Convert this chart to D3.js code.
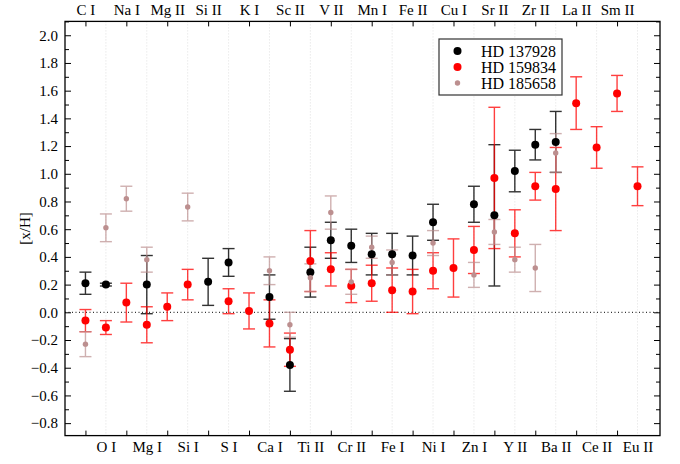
<!DOCTYPE html>
<html>
<head>
<meta charset="utf-8">
<script src="https://cdn.jsdelivr.net/npm/d3@7"></script>
<style>
  body { margin: 0; background: #fff; }
  svg text { font-family: "Liberation Serif", "DejaVu Serif", serif; fill: #000; }
</style>
</head>
<body>
<div id="chart"></div>
<script>
var svgWidth = 680;
var svgHeight = 464;

// element labels, in plotting order (even -> labelled on top, odd -> bottom)
var elements = ["C I", "O I", "Na I", "Mg I", "Mg II", "Si I", "Si II", "S I", "K I", "Ca I",
  "Sc II", "Ti II", "V II", "Cr II", "Mn I", "Fe I", "Fe II", "Ni I", "Cu I", "Zn I",
  "Sr II", "Y II", "Zr II", "Ba II", "La II", "Ce II", "Sm II", "Eu II"];

// HD 137928
var hd137928 = [0.21, 0.20, null, 0.20, null, null, 0.22, 0.36, null, 0.11,
  -0.38, 0.29, 0.52, 0.48, 0.42, 0.42, 0.41, 0.65, null, 0.78,
  0.70, 1.02, 1.21, 1.23, null, null, null, null];
var hd137928Err = [0.08, 0.01, null, 0.21, null, null, 0.17, 0.10, null, 0.16,
  0.19, 0.18, 0.13, 0.12, 0.15, 0.15, 0.14, 0.13, null, 0.13,
  0.51, 0.15, 0.11, 0.22, null, null, null, null];

// HD 159834
var hd159834 = [-0.06, -0.11, 0.07, -0.09, 0.04, 0.20, null, 0.08, 0.01, -0.08,
  -0.27, 0.37, 0.31, 0.19, 0.21, 0.16, 0.15, 0.30, 0.32, 0.45,
  0.97, 0.57, 0.91, 0.89, 1.51, 1.19, 1.58, 0.91];
var hd159834Err = [0.08, 0.05, 0.14, 0.13, 0.10, 0.11, null, 0.09, 0.13, 0.17,
  0.12, 0.22, 0.12, 0.12, 0.13, 0.16, 0.16, 0.13, 0.21, 0.17,
  0.51, 0.17, 0.10, 0.30, 0.19, 0.15, 0.13, 0.14];

// HD 185658
var hd185658 = [-0.23, 0.61, 0.82, 0.38, null, 0.76, null, null, null, 0.30,
  -0.09, 0.25, 0.72, 0.22, 0.47, 0.36, null, 0.50, null, 0.27,
  0.58, 0.38, 0.32, 1.15, null, null, null, null];
var hd185658Err = [0.09, 0.10, 0.09, 0.09, null, 0.10, null, null, null, 0.10,
  0.09, 0.10, 0.12, 0.09, 0.08, 0.09, null, 0.09, null, 0.09,
  0.09, 0.09, 0.17, 0.14, null, null, null, null];

var series = [
  {name: "HD 137928", values: hd137928, errs: hd137928Err, color: "#000000", r: 4, barOpacity: 0.8},
  {name: "HD 159834", values: hd159834, errs: hd159834Err, color: "#ff0000", r: 4, barOpacity: 0.75},
  {name: "HD 185658", values: hd185658, errs: hd185658Err, color: "#bc8f8f", r: 2.7, barOpacity: 0.7}
];

var plot = {left: 65, right: 660, top: 21.4, bottom: 435.6};
var serif = "'Liberation Serif', 'DejaVu Serif', serif";

var svg = d3.select("#chart")
  .append("svg")
  .attr("width", svgWidth)
  .attr("height", svgHeight);

var x = d3.scaleLinear()
  .domain([-1, 28.1])
  .range([plot.left, plot.right]);

var y = d3.scaleLinear()
  .domain([-0.89, 2.1])
  .range([plot.bottom, plot.top]);

var idx = d3.range(elements.length);
var evenIdx = idx.filter(i => i % 2 === 0);
var oddIdx = idx.filter(i => i % 2 === 1);

// light dotted vertical grid at the bottom-labelled elements
svg.append("g")
  .selectAll("line")
  .data(oddIdx)
  .enter()
  .append("line")
  .attr("x1", d => x(d))
  .attr("x2", d => x(d))
  .attr("y1", plot.top)
  .attr("y2", plot.bottom)
  .attr("stroke", "#d8d8d8")
  .attr("stroke-width", 0.8)
  .attr("stroke-dasharray", "1,2");

// zero line
svg.append("line")
  .attr("x1", plot.left)
  .attr("x2", plot.right)
  .attr("y1", y(0))
  .attr("y2", y(0))
  .attr("stroke", "#000")
  .attr("stroke-width", 1)
  .attr("stroke-dasharray", "1,2.5");

// axes
var majorTicks = d3.range(-8, 21, 2).map(d => d / 10);
var minorTicks = d3.range(-9, 22, 2).map(d => d / 10).filter(d => d >= -0.89 && d <= 2.1);

svg.append("g")
  .attr("transform", `translate(${plot.left},0)`)
  .call(d3.axisLeft(y).tickValues(majorTicks).tickSize(-6).tickPadding(7).tickFormat(d3.format(".1f")));
svg.append("g")
  .attr("transform", `translate(${plot.left},0)`)
  .call(d3.axisLeft(y).tickValues(minorTicks).tickSize(-4).tickFormat(""));
svg.append("g")
  .attr("transform", `translate(${plot.right},0)`)
  .call(d3.axisRight(y).tickValues(majorTicks).tickSize(-6).tickFormat(""));
svg.append("g")
  .attr("transform", `translate(${plot.right},0)`)
  .call(d3.axisRight(y).tickValues(minorTicks).tickSize(-4).tickFormat(""));

svg.append("g")
  .attr("transform", `translate(0,${plot.top})`)
  .call(d3.axisTop(x).tickValues(evenIdx).tickSize(-5).tickPadding(6).tickFormat(i => elements[i]));
svg.append("g")
  .attr("transform", `translate(0,${plot.bottom})`)
  .call(d3.axisBottom(x).tickValues(evenIdx).tickSize(-5).tickFormat(""));
var bottomLabels = svg.append("g")
  .attr("transform", `translate(0,${plot.bottom})`)
  .call(d3.axisBottom(x).tickValues(oddIdx).tickSize(0).tickPadding(6).tickFormat(i => elements[i]));

svg.selectAll(".domain").remove();
svg.selectAll(".tick line").attr("stroke", "#000").attr("stroke-width", 1);
svg.selectAll("g").attr("font-family", serif);
svg.selectAll(".tick text")
  .attr("fill", "#000")
  .attr("font-size", "15px");
bottomLabels.selectAll(".tick line").remove();

// frame
svg.append("rect")
  .attr("x", plot.left)
  .attr("y", plot.top)
  .attr("width", plot.right - plot.left)
  .attr("height", plot.bottom - plot.top)
  .attr("fill", "none")
  .attr("stroke", "#000")
  .attr("stroke-width", 1.3);

// y label
svg.append("text")
  .attr("transform", `translate(30,${(plot.top + plot.bottom) / 2}) rotate(-90)`)
  .attr("text-anchor", "middle")
  .attr("font-family", serif)
  .attr("font-size", "15px")
  .text("[x/H]");

// error bars
var cap = 6;
series.forEach(function(s) {
  var pts = idx.filter(i => s.values[i] !== null);
  var g = svg.append("g")
    .attr("stroke", s.color)
    .attr("stroke-width", 1.4)
    .attr("opacity", s.barOpacity);
  g.selectAll(".bar")
    .data(pts)
    .enter()
    .append("line")
    .attr("x1", i => x(i))
    .attr("x2", i => x(i))
    .attr("y1", i => y(s.values[i] + s.errs[i]))
    .attr("y2", i => y(s.values[i] - s.errs[i]));
  g.selectAll(".capTop")
    .data(pts)
    .enter()
    .append("line")
    .attr("x1", i => x(i) - cap)
    .attr("x2", i => x(i) + cap)
    .attr("y1", i => y(s.values[i] + s.errs[i]))
    .attr("y2", i => y(s.values[i] + s.errs[i]));
  g.selectAll(".capBot")
    .data(pts)
    .enter()
    .append("line")
    .attr("x1", i => x(i) - cap)
    .attr("x2", i => x(i) + cap)
    .attr("y1", i => y(s.values[i] - s.errs[i]))
    .attr("y2", i => y(s.values[i] - s.errs[i]));
});

// points
series.forEach(function(s) {
  svg.append("g")
    .selectAll("circle")
    .data(idx.filter(i => s.values[i] !== null))
    .enter()
    .append("circle")
    .attr("cx", i => x(i))
    .attr("cy", i => y(s.values[i]))
    .attr("r", s.r)
    .attr("fill", s.color);
});

// legend
var legend = svg.append("g").attr("transform", "translate(439,39)");
legend.append("rect")
  .attr("width", 123)
  .attr("height", 56)
  .attr("fill", "#fff")
  .attr("stroke", "#333")
  .attr("stroke-width", 1.2);
series.forEach(function(s, k) {
  legend.append("circle")
    .attr("cx", 18.5)
    .attr("cy", 12 + k * 16)
    .attr("r", s.r)
    .attr("fill", s.color);
  legend.append("text")
    .attr("x", 42)
    .attr("y", 17.5 + k * 16)
    .attr("font-family", serif)
    .attr("font-size", "16px")
    .text(s.name);
});
</script>
</body>
</html>
